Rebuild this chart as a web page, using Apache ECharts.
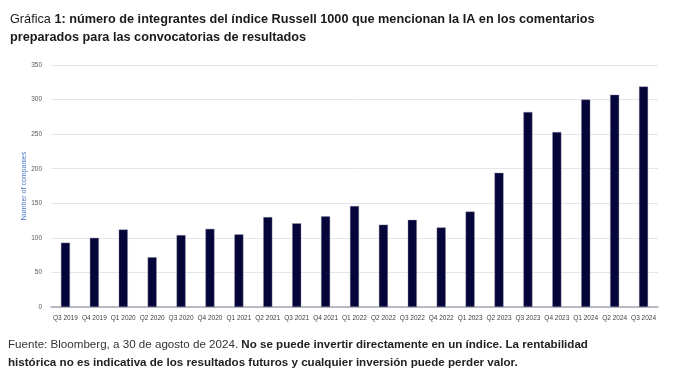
<!DOCTYPE html>
<html>
<head>
<meta charset="utf-8">
<script src="https://cdn.jsdelivr.net/npm/echarts@6/dist/echarts.min.js"></script>
<style>html,body{margin:0;padding:0;background:#fff;}#c{width:681px;height:381px;}</style>
</head>
<body>
<div id="c"></div>
<script>
const categories = ['Q3 2019','Q4 2019','Q1 2020','Q2 2020','Q3 2020','Q4 2020','Q1 2021','Q2 2021','Q3 2021','Q4 2021','Q1 2022','Q2 2022','Q3 2022','Q4 2022','Q1 2023','Q2 2023','Q3 2023','Q4 2023','Q1 2024','Q2 2024','Q3 2024'];
const companies = [93, 100, 112, 72, 104, 113, 105, 130, 121, 131, 146, 119, 126, 115, 138, 194, 282, 253, 300, 307, 319];
const yTicks = { min: 0, max: 350, interval: 50 };
const titleText = ['Gráfica ', '1: número de integrantes del índice Russell 1000 que mencionan la IA en los comentarios', 'preparados para las convocatorias de resultados'];
const noteText = ['Fuente: Bloomberg, a 30 de agosto de 2024. ', 'No se puede invertir directamente en un índice. La rentabilidad', 'histórica no es indicativa de los resultados futuros y cualquier inversión puede perder valor.'];

const FF = "'Liberation Sans',sans-serif";
const chart = echarts.init(document.getElementById('c'), null, {renderer: 'canvas'});
chart.setOption({
  animation: false,
  backgroundColor: '#fff',
  textStyle: { fontFamily: FF },
  title: [{
    left: 5, top: 5, padding: [5, 5, 5, 5],
    text: '{n|' + titleText[0] + '}{b|' + titleText[1] + '}\n{b|' + titleText[2] + '}',
    textStyle: {
      rich: {
        n: { fontFamily: FF, fontSize: 12.7, fontWeight: 'normal', color: '#1a1a1a', lineHeight: 18 },
        b: { fontFamily: FF, fontSize: 12.7, fontWeight: 'bold', color: '#1a1a1a', lineHeight: 18 }
      }
    }
  }, {
    left: 3, top: 331,
    text: '{n|' + noteText[0] + '}{b|' + noteText[1] + '}\n{b|' + noteText[2] + '}',
    textStyle: {
      rich: {
        n: { fontFamily: FF, fontSize: 11.6, fontWeight: 'normal', color: '#333', lineHeight: 18 },
        b: { fontFamily: FF, fontSize: 11.6, fontWeight: 'bold', color: '#222', lineHeight: 18 }
      }
    }
  }],
  grid: { left: 51, right: 23, top: 65, bottom: 74, containLabel: false },
  xAxis: {
    type: 'category',
    data: categories,
    axisLine: { lineStyle: { color: '#a6a6b4', width: 1.5 } },
    axisTick: { show: false },
    axisLabel: { interval: 0, fontSize: 6.5, color: '#404040', margin: 8, fontFamily: FF }
  },
  yAxis: {
    type: 'value',
    min: yTicks.min, max: yTicks.max, interval: yTicks.interval,
    name: 'Number of companies',
    nameLocation: 'middle',
    nameRotate: 90,
    nameGap: 23,
    nameMoveOverlap: false,
    nameTextStyle: { fontSize: 7, color: '#4472c4', fontFamily: FF },
    axisLine: { show: false },
    axisTick: { show: false },
    axisLabel: { fontSize: 6.5, color: '#595959', margin: 9, fontFamily: FF },
    splitLine: { lineStyle: { color: '#e4e6ee', width: 1 } }
  },
  series: [{
    type: 'bar',
    data: companies,
    barWidth: 9,
    itemStyle: { color: '#05053a', borderColor: '#8a8aa0', borderWidth: 0.4 }
  }]
});
</script>
</body>
</html>
